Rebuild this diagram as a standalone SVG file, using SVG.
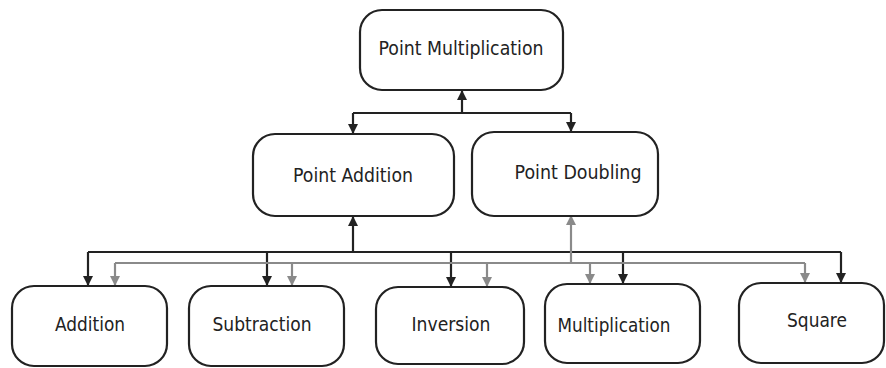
<svg xmlns="http://www.w3.org/2000/svg" width="886" height="368" viewBox="0 0 886 368">
<defs>
<style>
.box{fill:#fff;stroke:#222;stroke-width:2.2}
.lbl{font-family:"DejaVu Sans",Verdana,sans-serif;font-size:20px;fill:#222;text-anchor:middle}
.blk{fill:none;stroke:#222;stroke-width:2.2}
.gry{fill:none;stroke:#8a8a8a;stroke-width:2.2}
</style>
<marker id="ab" viewBox="0 0 10 10" refX="9" refY="5" markerWidth="5" markerHeight="4.6" orient="auto" markerUnits="strokeWidth"><path d="M0,0 L10,5 L0,10 z" fill="#222"/></marker>
<marker id="ag" viewBox="0 0 10 10" refX="9" refY="5" markerWidth="5" markerHeight="4.6" orient="auto" markerUnits="strokeWidth"><path d="M0,0 L10,5 L0,10 z" fill="#8a8a8a"/></marker>
</defs>
<rect width="886" height="368" fill="#fff"/>
<g id="connectors">
<path class="blk" d="M462,113 V91" marker-end="url(#ab)"/>
<path class="blk" d="M353,113 H571"/>
<path class="blk" d="M353,113 V133" marker-end="url(#ab)"/>
<path class="blk" d="M571,113 V131" marker-end="url(#ab)"/>
<path class="blk" d="M353,252 V217" marker-end="url(#ab)"/>
<path class="blk" d="M88,252 H841"/>
<path class="blk" d="M88,252 V285" marker-end="url(#ab)"/>
<path class="blk" d="M267,252 V285" marker-end="url(#ab)"/>
<path class="blk" d="M451,252 V286" marker-end="url(#ab)"/>
<path class="blk" d="M623,252 V283" marker-end="url(#ab)"/>
<path class="blk" d="M841,252 V282" marker-end="url(#ab)"/>
<path class="gry" d="M571,263 V216" marker-end="url(#ag)"/>
<path class="gry" d="M115,263 H805"/>
<path class="gry" d="M115,263 V285" marker-end="url(#ag)"/>
<path class="gry" d="M292,263 V285" marker-end="url(#ag)"/>
<path class="gry" d="M487,263 V286" marker-end="url(#ag)"/>
<path class="gry" d="M590,263 V283" marker-end="url(#ag)"/>
<path class="gry" d="M805,263 V282" marker-end="url(#ag)"/>
</g>
<g id="point-multiplication"><rect class="box" x="360" y="10" width="203" height="80" rx="22"/><text class="lbl" x="461" y="55" textLength="165" lengthAdjust="spacingAndGlyphs">Point Multiplication</text></g>
<g id="point-addition"><rect class="box" x="253" y="134" width="201" height="82" rx="22"/><text class="lbl" x="353" y="182" textLength="120" lengthAdjust="spacingAndGlyphs">Point Addition</text></g>
<g id="point-doubling"><rect class="box" x="472" y="132" width="186" height="84" rx="22"/><text class="lbl" x="578" y="179" textLength="127" lengthAdjust="spacingAndGlyphs">Point Doubling</text></g>
<g id="addition"><rect class="box" x="12" y="286" width="155" height="80" rx="22"/><text class="lbl" x="90" y="331" textLength="70" lengthAdjust="spacingAndGlyphs">Addition</text></g>
<g id="subtraction"><rect class="box" x="189" y="286" width="155" height="80" rx="22"/><text class="lbl" x="262" y="331" textLength="99" lengthAdjust="spacingAndGlyphs">Subtraction</text></g>
<g id="inversion"><rect class="box" x="376" y="287" width="148" height="77" rx="22"/><text class="lbl" x="451" y="331" textLength="79" lengthAdjust="spacingAndGlyphs">Inversion</text></g>
<g id="multiplication"><rect class="box" x="545" y="284" width="155" height="79" rx="22"/><text class="lbl" x="614" y="332" textLength="113" lengthAdjust="spacingAndGlyphs">Multiplication</text></g>
<g id="square"><rect class="box" x="739" y="283" width="145" height="80" rx="22"/><text class="lbl" x="817" y="327" textLength="60" lengthAdjust="spacingAndGlyphs">Square</text></g>
</svg>
